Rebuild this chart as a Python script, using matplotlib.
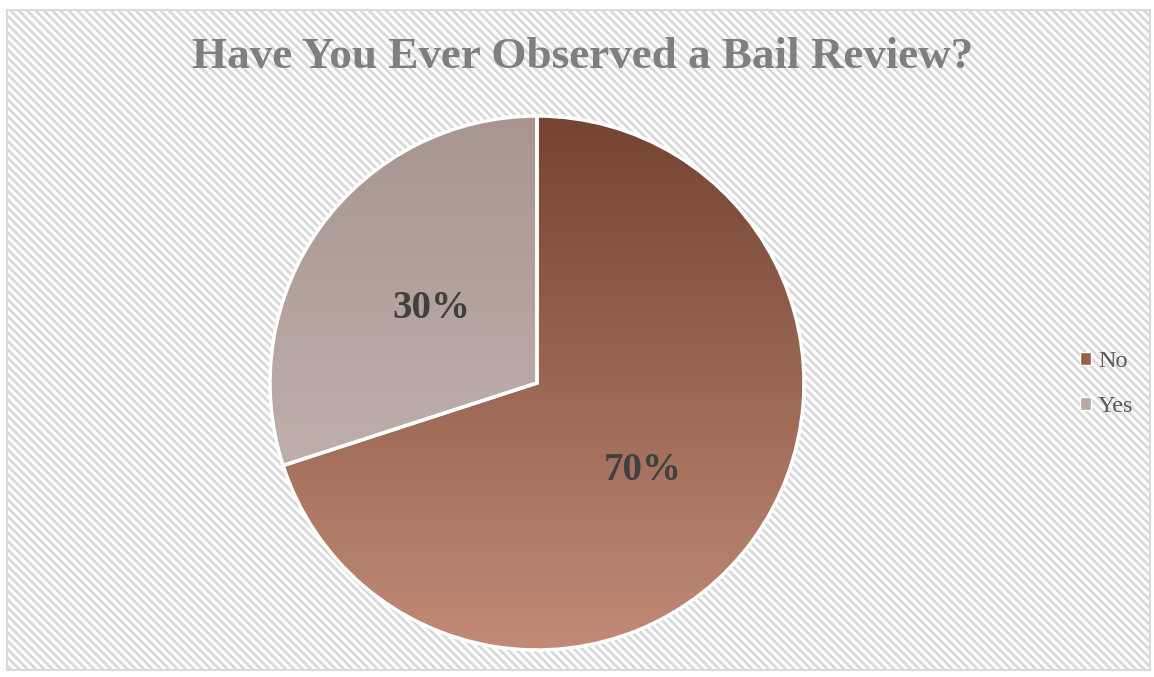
import matplotlib.pyplot as plt
import numpy as np
from matplotlib.colors import LinearSegmentedColormap
from matplotlib.patches import Rectangle, Patch

plt.rcParams['hatch.linewidth'] = 2.0
plt.rcParams['hatch.color'] = '#e2e2e2'

# data
labels = ['No', 'Yes']
values = [70, 30]
# gradient colours, top -> bottom
top_colors = ['#744332', '#a8958f']
bottom_colors = ['#c18b76', '#cbbcb8']
mid_colors = ['#9a5f4b', '#b9a7a2']

fig = plt.figure(figsize=(11.54, 6.77), dpi=100)

# hatched chart area with light border
bg = Rectangle((7/1154, 1 - 670/677), 1143/1154, 660/677, transform=fig.transFigure,
               facecolor='white', edgecolor='#d9d9d9', hatch='\\\\\\\\', linewidth=1.5, zorder=-5)
fig.patches.append(bg)

cx, cy, r = 537, 383, 267
ax = fig.add_axes([(cx - r)/1154, (677 - cy - r)/677, 2*r/1154, 2*r/677])
ax.set_aspect('equal')
ax.patch.set_alpha(0)

wedges, texts = ax.pie(values, startangle=90, counterclock=False, colors=mid_colors,
                       wedgeprops=dict(edgecolor='white', linewidth=2.5), radius=1)

# vertical gradient inside each wedge
grad = np.linspace(0, 1, 256).reshape(-1, 1)
for w, c0, c1 in zip(wedges, top_colors, bottom_colors):
    cmap = LinearSegmentedColormap.from_list('g', [c0, c1])
    im = ax.imshow(grad, cmap=cmap, extent=(-1, 1, -1, 1), origin='upper',
                   aspect='auto', zorder=2)
    im.set_clip_path(w)
    # wedge keeps only its white outline, on top of the gradient
    w.set_facecolor('none')
    w.set_zorder(3)
ax.set_xlim(-1, 1)
ax.set_ylim(-1, 1)
ax.axis('off')

# percentage labels
for w, v in zip(wedges, values):
    ang = np.deg2rad((w.theta1 + w.theta2) / 2 - 1.5)
    ax.text(0.5 * np.cos(ang), 0.5 * np.sin(ang) - 0.024, f'{v}%', ha='center', va='center',
            fontsize=28, fontweight='bold', color='#404040', family='Liberation Serif', zorder=10)

fig.text(583/1154, 1 - 57/677, 'Have You Ever Observed a Bail Review?', ha='center', va='center',
         fontsize=32.5, fontweight='bold', color='#7f7f7f', family='Liberation Serif')

handles = [Patch(facecolor=c, edgecolor='white') for c in mid_colors]
fig.legend(handles, labels, loc='center left', bbox_to_anchor=(1058/1154, 1 - 384/677),
           frameon=False, handlelength=0.45, handleheight=0.45, handletextpad=0.3,
           labelspacing=1.0, prop={'family': 'Liberation Serif', 'size': 17.5}, labelcolor='#595959')

fig.savefig('out.png', dpi=100)
